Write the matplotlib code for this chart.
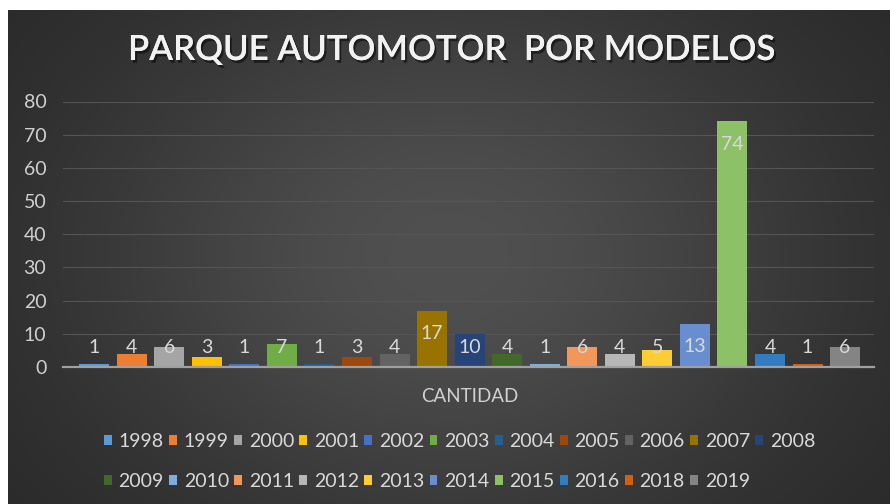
import numpy as np
import matplotlib
matplotlib.use("Agg")
import matplotlib.pyplot as plt
from matplotlib import patheffects as pe

plt.rcParams['font.family'] = ['Lato', 'DejaVu Sans']

# datos
modelos = ["1998", "1999", "2000", "2001", "2002", "2003", "2004", "2005", "2006", "2007", "2008",
           "2009", "2010", "2011", "2012", "2013", "2014", "2015", "2016", "2018", "2019"]
cantidad = [1, 4, 6, 3, 1, 7, 1, 3, 4, 17, 10, 4, 1, 6, 4, 5, 13, 74, 4, 1, 6]
colores = ["#5B9BD5", "#ED7D31", "#A5A5A5", "#FFC000", "#4472C4", "#70AD47",
           "#255E91", "#9E480E", "#636363", "#997300", "#264478", "#43682B",
           "#7CAFDD", "#F1975A", "#B7B7B7", "#FFCD33", "#698ED0", "#8CC168",
           "#327DC2", "#D26012", "#848484"]
categoria = "CANTIDAD"
titulo = "PARQUE AUTOMOTOR  POR MODELOS"
yticks = [0, 10, 20, 30, 40, 50, 60, 70, 80]

W, H = 890, 504
fig = plt.figure(figsize=(W / 100, H / 100), dpi=100, facecolor="white")

# fondo con degradado radial
bg = fig.add_axes([8 / W, 0, (W - 8) / W, (H - 10) / H])
yy, xx = np.mgrid[0:1:300j, 0:1:500j]
r2 = ((xx - 0.5) / 0.55) ** 2 + ((yy - 0.5) / 0.75) ** 2
val = 38 + (80 - 38) * np.exp(-1.6 * r2)
img = np.dstack([val, val, val]) / 255.0
bg.imshow(img, aspect="auto", extent=[0, 1, 0, 1], origin="lower")
bg.set_axis_off()

ax = fig.add_axes([63 / W, (H - 367) / H, (874 - 63) / W, (367 - 101.5) / H])
ax.patch.set_alpha(0)

x = np.arange(len(cantidad))
bars = []
for i, (m, v, c) in enumerate(zip(modelos, cantidad, colores)):
    b = ax.bar(x[i], v, width=0.8, color=c, label=m, zorder=3)
    bars.append(b)
    ax.text(x[i], max(v - 6.9, 6.0), str(v), ha="center", va="center",
            color="#D9D9D9", fontsize=14, zorder=4)

ax.set_xlim(-0.83, len(cantidad) - 1 + 0.77)
ax.set_ylim(0, 80)
ax.set_yticks(yticks)
ax.set_xticks([(len(cantidad) - 1) / 2])
ax.set_xticklabels([categoria])
ax.tick_params(axis="both", length=0, colors="#D0D0D0", labelsize=14)
ax.tick_params(axis="x", labelsize=13.5, pad=15)
ax.tick_params(axis="y", pad=12)
ax.grid(axis="y", color="#555555", linewidth=0.8, zorder=0)
for s in ["top", "right", "left"]:
    ax.spines[s].set_visible(False)
ax.spines["bottom"].set_color("#A0A0A0")
ax.spines["bottom"].set_linewidth(1.6)
ax.spines["bottom"].set_zorder(5)

# titulo
fig.text(452 / W, 1 - 50 / H, titulo, ha="center", va="center", fontsize=25,
         fontweight=600, color="#F2F2F2",
         path_effects=[pe.withSimplePatchShadow(offset=(1.5, -2), shadow_rgbFace="black", alpha=0.5),
                       pe.Normal()])

# leyenda en dos filas (orden por filas)
fila1 = list(range(11))
fila2 = list(range(11, 21))
orden = []
for k in range(11):
    orden.append(fila1[k])
    if k < len(fila2):
        orden.append(fila2[k])
handles = [bars[k] for k in orden]
labels = [modelos[k] for k in orden]
leg = fig.legend(handles, labels, ncol=11, loc="center left",
                 bbox_to_anchor=(104 / W, 1 - 461.4 / H), frameon=False,
                 fontsize=14, handlelength=0.4, handleheight=0.4,
                 handletextpad=0.35, columnspacing=0.27, labelspacing=1.2,
                 borderpad=0, borderaxespad=0)
for t in leg.get_texts():
    t.set_color("#D9D9D9")

fig.savefig("out.png", dpi=100, facecolor=fig.get_facecolor())
